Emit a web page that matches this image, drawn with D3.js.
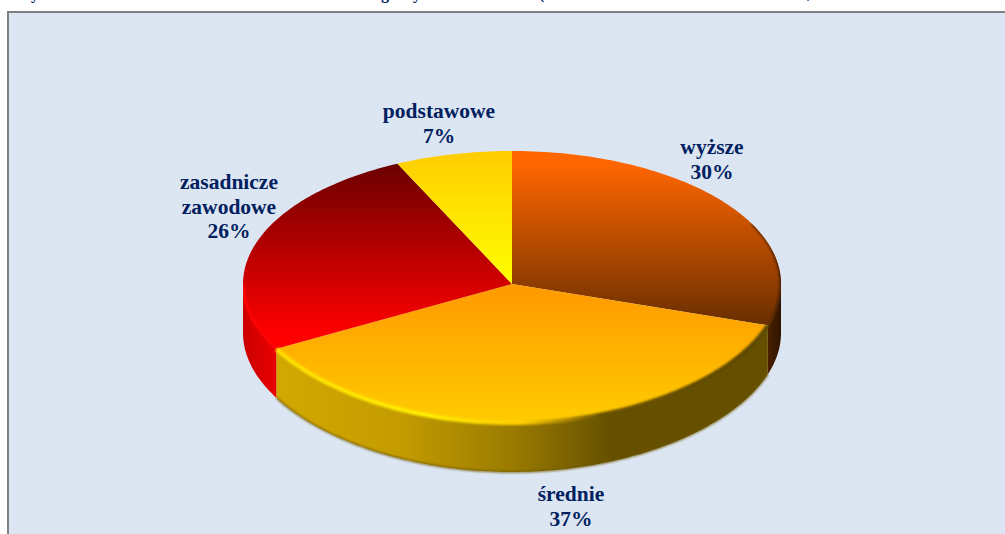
<!DOCTYPE html>
<html lang="pl">
<head>
<meta charset="utf-8">
<title>Wykształcenie</title>
<script src="https://cdn.jsdelivr.net/npm/d3@7"></script>
<style>
    html, body { margin: 0; padding: 0; background: #fff; overflow: hidden; }
    text { font-family: "Liberation Serif", serif; font-weight: bold; fill: #002060; }
</style>
</head>
<body>
<svg id="chart" width="1005" height="534"></svg>
<script>
// values, clockwise from 12 o'clock
const categories = ["wyższe", "średnie", "zasadnicze zawodowe", "podstawowe"];
const shares = [30, 37, 26, 7];
const labelLines = [["wyższe", "30%"], ["średnie", "37%"], ["zasadnicze", "zawodowe", "26%"], ["podstawowe", "7%"]];
// the line above the frame is cut off by the page edge, only these tails show
const clippedTitleGlyphs = ["y", "g", "y", "(", ","];

const labelCenters = [[712, 154], [571, 501], [229, 189], [439, 118]];
const titleGlyphX = [31, 381, 413, 539, 807];

// start colour, end colour, where the start colour stops and where the end colour is reached
const topColors = [
    ["#ff6600", "#692e00", 0.08, 1],
    ["#ff9900", "#ffcc00", 0, 1],
    ["#6b0000", "#ff0000", 0, 0.92],
    ["#ffcc00", "#ffff00", 0, 1]
];

const svg = d3.select("#chart");
const width = 1005, height = 534;

const cx = 512, cy = 284;
const rx = 269;
const ry = 133;
const depth = 49;

svg.append("rect")
    .attr("x", 8).attr("y", 12)
    .attr("width", width).attr("height", height)
    .attr("fill", "#dce6f2")
    .attr("stroke", "#808080")
    .attr("stroke-width", 2);

svg.selectAll(".title-glyph")
    .data(clippedTitleGlyphs)
    .enter()
    .append("text")
    .attr("class", "title-glyph")
    .attr("x", (d, i) => titleGlyphX[i])
    .attr("y", -1.5)
    .style("font-size", "16px")
    .text(d => d);

const pie = d3.pie().sort(null).value(d => d);
const arcs = pie(shares);

// angle is clockwise from the top, like d3.pie gives it
function rimX(a) { return cx + rx * Math.sin(a); }
function rimY(a) {
    const c = Math.cos(a);
    // front of the pie looks a bit deeper than the back
    return cy - c * (c > 0 ? ry : ry + 6 * c * c);
}
function rimAngles(a0, a1) {
    const n = Math.max(2, Math.ceil((a1 - a0) / 0.02));
    return d3.range(n + 1).map(i => a0 + (a1 - a0) * i / n);
}
const rimLine = d3.line().x(a => rimX(a)).y(a => rimY(a));
const lowerLine = d3.line().x(a => rimX(a)).y(a => rimY(a) + depth);

const defs = svg.append("defs");

defs.append("filter").attr("id", "soft")
    .attr("x", "-5%").attr("y", "-5%").attr("width", "110%").attr("height", "110%")
    .append("feGaussianBlur").attr("stdDeviation", 1);

topColors.forEach((c, i) => {
    const g = defs.append("linearGradient").attr("id", "top" + i)
        .attr("x1", 0).attr("y1", 0).attr("x2", 0).attr("y2", 1);
    g.append("stop").attr("offset", c[2]).attr("stop-color", c[0]);
    g.append("stop").attr("offset", c[3]).attr("stop-color", c[1]);
});

function sideGradient(id, x1, x2, stops) {
    const g = defs.append("linearGradient").attr("id", id)
        .attr("gradientUnits", "userSpaceOnUse")
        .attr("x1", x1).attr("y1", 0).attr("x2", x2).attr("y2", 0);
    stops.forEach(s => g.append("stop").attr("offset", s[0]).attr("stop-color", s[1]));
}

const frontStart = Math.PI / 2, frontEnd = Math.PI * 1.5;
const xLeft = rimX(arcs[1].endAngle), xRight = rimX(arcs[1].startAngle);

sideGradient("side0", xRight, cx + rx, [[0, "#4a2000"], [1, "#2e1400"]]);
sideGradient("side1", xLeft, xRight, [[0, "#d2a800"], [0.25, "#c49c00"], [0.48, "#9a7b00"], [0.68, "#665000"], [1, "#665000"]]);
sideGradient("side2", cx - rx, xLeft, [[0, "#cc0000"], [1, "#e80000"]]);
sideGradient("bevel0", xRight, cx + rx, [[0, "#6a3000"], [1, "#3a1a00"]]);
sideGradient("bevel1", xLeft, xRight, [[0, "#ffe000"], [0.3, "#fff000"], [0.5, "#ffcc00"], [0.66, "#6b5200"], [1, "#5a4500"]]);
sideGradient("bevel2", cx - rx, xLeft, [[0, "#ff0000"], [1, "#ff0000"]]);

// bevel strokes must not spill over the background
const clip = defs.append("clipPath").attr("id", "pieShape");
clip.append("path").attr("d", rimLine(rimAngles(0, Math.PI * 2)) + "Z");
clip.append("path").attr("d", rimLine(rimAngles(frontStart, frontEnd)) + "L" + lowerLine(rimAngles(frontStart, frontEnd).reverse()).slice(1) + "Z");

// side wall, only the part of each slice that faces us
arcs.forEach((d, i) => {
    const a0 = Math.max(d.startAngle, frontStart);
    const a1 = Math.min(d.endAngle, frontEnd);
    if (a1 <= a0) return;
    const angles = rimAngles(a0, a1);
    const top = rimLine(angles);
    const bottom = lowerLine(angles.slice().reverse());
    svg.append("path")
        .attr("d", top + "L" + bottom.slice(1) + "Z")
        .attr("fill", `url(#side${i})`);
    if (i === 1) {
        svg.append("path")
            .attr("d", lowerLine(angles))
            .attr("fill", "none")
            .attr("stroke", "#6b5400")
            .attr("stroke-width", 1.5)
            .attr("filter", "url(#soft)");
    }
});

// top faces
svg.selectAll(".slice")
    .data(arcs)
    .enter()
    .append("path")
    .attr("class", "slice")
    .attr("d", d => {
        const rim = rimLine(rimAngles(d.startAngle, d.endAngle));
        return `M${cx},${cy}L${rim.slice(1)}Z`;
    })
    .attr("fill", (d, i) => `url(#top${i})`);

// soft edge where the top meets the wall
const bevelLayer = svg.append("g").attr("clip-path", "url(#pieShape)");
arcs.forEach((d, i) => {
    if (i > 2) return;
    const a0 = i === 0 ? 1.1 : d.startAngle;
    const a1 = i === 2 ? frontEnd : d.endAngle;
    bevelLayer.append("path")
        .attr("d", rimLine(rimAngles(a0, a1)))
        .attr("fill", "none")
        .attr("stroke", `url(#bevel${i})`)
        .attr("stroke-width", i === 1 ? 4 : 3)
        .attr("filter", "url(#soft)");
});

// labels
labelLines.forEach((lines, i) => {
    const t = svg.append("text")
        .attr("text-anchor", "middle")
        .style("font-size", "21.5px");
    lines.forEach((line, k) => {
        t.append("tspan")
            .attr("x", labelCenters[i][0])
            .attr("y", labelCenters[i][1] + k * 24.5)
            .text(line);
    });
});
</script>
</body>
</html>
